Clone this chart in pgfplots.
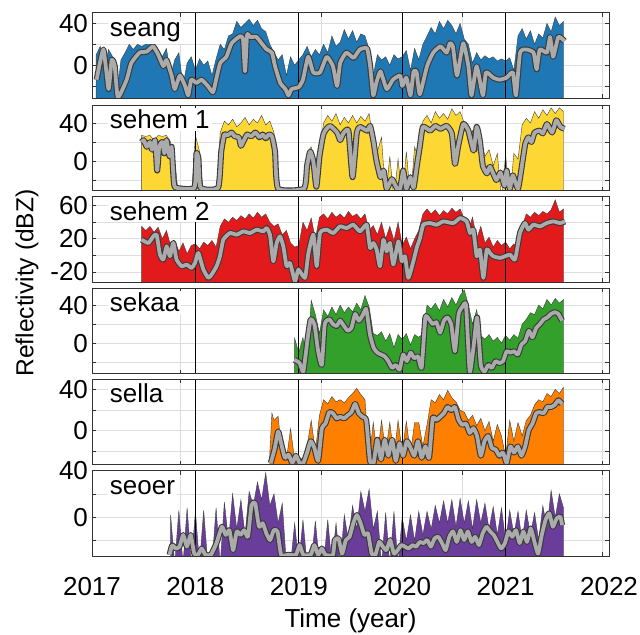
\documentclass[border=0pt]{standalone}
\usepackage{fontspec}
\setmainfont{Liberation Sans}
\usepackage{pgfplots}
\pgfplotsset{compat=1.18}
\usepackage{pgfplotstable}

\definecolor{cseang}{HTML}{1F77B4}
\definecolor{csehemA}{HTML}{FDD835}
\definecolor{csehemB}{HTML}{E31A1C}
\definecolor{csekaa}{HTML}{33A02C}
\definecolor{csella}{HTML}{FF7F00}
\definecolor{cseoer}{HTML}{6A3D9A}
\definecolor{glight}{HTML}{ABABAB}
\definecolor{gdark}{HTML}{3A3A3A}

% ---------------- seang ----------------
\pgfplotstableread{
x y
2017.04 -40
2017.04 10
2017.08 18
2017.12 -5
2017.16 15
2017.20 8
2017.24 -30
2017.28 5
2017.32 12
2017.36 20
2017.40 15
2017.44 20
2017.48 18
2017.52 20
2017.56 22
2017.60 20
2017.64 15
2017.68 8
2017.72 16
2017.76 -10
2017.80 5
2017.84 12
2017.88 -20
2017.92 2
2017.96 8
2018.00 -5
2018.04 6
2018.08 0
2018.12 4
2018.16 -10
2018.20 6
2018.24 20
2018.28 15
2018.32 28
2018.36 30
2018.40 42
2018.44 36
2018.48 40
2018.52 44
2018.56 38
2018.60 43
2018.64 35
2018.68 32
2018.72 20
2018.76 12
2018.80 5
2018.84 10
2018.88 -10
2018.92 8
2018.96 0
2019.00 5
2019.04 10
2019.08 18
2019.12 8
2019.16 15
2019.20 10
2019.24 20
2019.28 12
2019.32 28
2019.36 18
2019.40 22
2019.44 34
2019.48 25
2019.52 33
2019.56 22
2019.60 30
2019.64 28
2019.68 15
2019.72 -10
2019.76 10
2019.80 5
2019.84 8
2019.88 0
2019.92 10
2019.96 6
2020.00 8
2020.04 14
2020.08 -5
2020.12 16
2020.16 5
2020.20 20
2020.24 28
2020.28 36
2020.32 30
2020.36 42
2020.40 35
2020.44 43
2020.48 38
2020.52 30
2020.56 40
2020.60 25
2020.64 20
2020.68 2
2020.72 12
2020.76 5
2020.80 9
2020.84 6
2020.88 8
2020.92 4
2020.96 6
2021.00 4
2021.04 7
2021.08 -5
2021.12 28
2021.16 35
2021.20 25
2021.24 33
2021.28 20
2021.32 30
2021.36 26
2021.40 40
2021.44 32
2021.48 46
2021.52 38
2021.56 42
2021.56 -40
}\rawA
\pgfplotstableread{
x y
2017.045 -14
2017.11 15
2017.16 -23
2017.19 5
2017.22 -1
2017.25 -31
2017.335 -14
2017.38 2
2017.46 12
2017.53 13
2017.59 18
2017.64 10
2017.69 -1
2017.72 5
2017.77 -10
2017.80 -23
2017.85 -10
2017.90 -20
2017.93 -29
2017.96 -14
2018.01 -17
2018.06 -14
2018.12 -20
2018.17 -26
2018.20 -14
2018.24 2
2018.30 8
2018.35 21
2018.43 27.6
2018.46 25
2018.48 -6
2018.50 29
2018.53 27
2018.59 27
2018.64 21
2018.69 15
2018.74 12
2018.77 -1
2018.82 -17
2018.87 -23
2018.90 -29
2018.93 -23
2019.00 -21
2019.04 -14
2019.09 8
2019.14 -7
2019.205 -7
2019.27 8
2019.33 -1
2019.37 -20
2019.40 2
2019.46 12
2019.53 7
2019.59 15
2019.66 16
2019.69 -1
2019.72 -29
2019.75 -17
2019.79 -6
2019.85 -23
2019.91 -14
2019.98 -10
2020.00 -20
2020.04 -12
2020.08 -29
2020.11 -6
2020.14 -7
2020.17 -28
2020.24 -1
2020.30 12
2020.37 18
2020.43 12
2020.46 21
2020.49 18
2020.53 -10
2020.59 21
2020.64 -1
2020.67 -29
2020.72 -1
2020.78 -29
2020.81 -7
2020.88 -12
2020.94 -14
2021.01 -12
2021.07 -7
2021.10 -29
2021.14 12
2021.20 15
2021.27 12
2021.30 -4
2021.33 15
2021.40 12
2021.43 27
2021.46 8
2021.51 27
2021.57 23
}\smA

% ---------------- sehem 1 ----------------
\pgfplotstableread{
x y
2017.48 -40
2017.48 27
2017.52 26
2017.56 27
2017.60 22
2017.64 27
2017.68 26
2017.72 27
2017.76 20
2017.80 0
2017.84 -40
2017.96 -40
2018.00 27
2018.04 10
2018.08 -40
2018.20 -40
2018.24 30
2018.28 42
2018.32 38
2018.36 44
2018.40 36
2018.44 40
2018.48 46
2018.52 38
2018.56 44
2018.60 40
2018.64 48
2018.68 38
2018.72 42
2018.76 30
2018.80 -40
2019.04 -40
2019.08 8
2019.12 15
2019.16 -10
2019.20 10
2019.24 40
2019.28 48
2019.32 42
2019.36 50
2019.40 38
2019.44 46
2019.48 40
2019.52 48
2019.56 40
2019.60 47
2019.64 42
2019.68 50
2019.72 20
2019.76 10
2019.80 25
2019.84 -40
2019.88 5
2019.92 -40
2019.96 2
2020.00 -40
2020.04 10
2020.08 -40
2020.12 15
2020.16 2
2020.20 42
2020.24 48
2020.28 40
2020.32 52
2020.36 45
2020.40 50
2020.44 44
2020.48 55
2020.52 48
2020.56 52
2020.60 40
2020.64 20
2020.68 32
2020.72 10
2020.76 22
2020.80 5
2020.84 12
2020.88 -5
2020.92 8
2020.96 -40
2021.00 6
2021.04 -40
2021.08 8
2021.12 2
2021.16 38
2021.20 45
2021.24 40
2021.28 52
2021.32 45
2021.36 54
2021.40 48
2021.44 56
2021.48 50
2021.52 56
2021.56 52
2021.56 -40
}\rawB
\pgfplotstableread{
x y
2017.48 20
2017.50 22
2017.53 15
2017.56 20
2017.58 12
2017.61 22
2017.63 -10
2017.65 15
2017.68 20
2017.70 8
2017.72 22
2017.75 5
2017.77 15
2017.79 -20
2017.81 -28
2017.99 -28
2018.01 8
2018.03 2
2018.05 -28
2018.22 -28
2018.25 10
2018.28 28
2018.31 27
2018.35 30
2018.38 26
2018.42 25
2018.44 16
2018.47 22
2018.50 28
2018.54 26
2018.58 30
2018.62 25
2018.65 28
2018.68 24
2018.71 28
2018.74 26
2018.77 10
2018.80 -29
2019.05 -29
2019.08 -5
2019.11 10
2019.14 0
2019.17 -27
2019.20 5
2019.24 29
2019.30 37
2019.37 30
2019.40 22
2019.43 29
2019.48 32
2019.52 -17
2019.56 29
2019.59 36
2019.66 32
2019.69 37
2019.72 22
2019.75 1
2019.79 -17
2019.82 -10
2019.85 -29
2019.90 -19
2019.95 -29
2019.98 -29
2020.01 -10
2020.04 -29
2020.08 -17
2020.11 -28
2020.14 -6
2020.17 15
2020.20 36
2020.27 32
2020.32 37
2020.37 34
2020.43 37
2020.48 29
2020.51 -3
2020.54 15
2020.59 39
2020.64 32
2020.69 11
2020.72 36
2020.75 22
2020.78 -5
2020.82 -13
2020.85 -6
2020.91 -20
2020.95 -12
2020.99 -26
2021.01 -10
2021.04 -29
2021.07 -15
2021.12 -29
2021.16 -3
2021.19 18
2021.22 25
2021.25 20
2021.28 30
2021.33 32
2021.36 29
2021.40 39
2021.45 30
2021.49 43
2021.53 36
2021.57 34
}\smB

% ---------------- sehem 2 ----------------
\pgfplotstableread{
x y
2017.48 -40
2017.48 35
2017.52 30
2017.56 35
2017.60 28
2017.64 34
2017.68 20
2017.72 30
2017.76 12
2017.80 18
2017.84 5
2017.88 15
2017.92 2
2017.96 12
2018.00 14
2018.04 8
2018.08 16
2018.12 12
2018.16 18
2018.20 10
2018.24 35
2018.28 44
2018.32 40
2018.36 46
2018.40 42
2018.44 48
2018.48 44
2018.52 50
2018.56 45
2018.60 52
2018.64 46
2018.68 50
2018.72 40
2018.76 35
2018.80 38
2018.84 25
2018.88 30
2018.92 15
2018.96 10
2019.00 12
2019.04 40
2019.08 30
2019.12 45
2019.16 20
2019.20 46
2019.24 50
2019.28 44
2019.32 52
2019.36 46
2019.40 50
2019.44 45
2019.48 53
2019.52 47
2019.56 50
2019.60 44
2019.64 50
2019.68 30
2019.72 36
2019.76 25
2019.80 40
2019.84 20
2019.88 35
2019.92 18
2019.96 40
2020.00 12
2020.04 22
2020.08 8
2020.12 20
2020.16 30
2020.20 50
2020.24 56
2020.28 50
2020.32 55
2020.36 48
2020.40 54
2020.44 50
2020.48 57
2020.52 52
2020.56 56
2020.60 44
2020.64 30
2020.68 46
2020.72 20
2020.76 35
2020.80 15
2020.84 22
2020.88 10
2020.92 18
2020.96 12
2021.00 16
2021.04 8
2021.08 14
2021.12 6
2021.16 35
2021.20 50
2021.24 46
2021.28 52
2021.32 48
2021.36 53
2021.40 50
2021.44 55
2021.48 67
2021.52 52
2021.56 56
2021.56 -40
}\rawC
\pgfplotstableread{
x y
2017.48 19
2017.545 15
2017.593 23
2017.625 25
2017.657 1
2017.69 -5
2017.722 11
2017.754 -1
2017.786 15
2017.818 -5
2017.867 -13
2017.915 -11
2017.963 -15
2017.996 -9
2018.028 3
2018.077 -17
2018.125 -27
2018.157 -23
2018.205 -13
2018.237 -1
2018.27 19
2018.334 27
2018.399 25
2018.463 29
2018.528 27
2018.592 31
2018.657 29
2018.689 33
2018.721 25
2018.753 -7
2018.786 15
2018.818 23
2018.85 11
2018.882 -13
2018.915 -9
2018.963 -31
2018.996 -17
2019.06 -27
2019.093 3
2019.141 25
2019.173 -13
2019.205 27
2019.27 31
2019.334 27
2019.398 35
2019.463 33
2019.527 37
2019.592 29
2019.656 37
2019.689 9
2019.721 15
2019.753 7
2019.785 -13
2019.818 19
2019.85 5
2019.882 15
2019.914 -11
2019.963 17
2019.995 -7
2020.027 -1
2020.059 -27
2020.108 -7
2020.14 9
2020.172 21
2020.204 37
2020.269 39
2020.333 37
2020.398 41
2020.495 39
2020.559 45
2020.623 41
2020.656 27
2020.688 31
2020.72 -1
2020.752 7
2020.785 -27
2020.817 7
2020.849 3
2020.881 -1
2020.946 -3
2020.994 -1
2021.043 1
2021.091 -5
2021.139 27
2021.188 39
2021.22 31
2021.268 37
2021.333 35
2021.397 39
2021.462 41
2021.526 39
2021.574 41
}\smC

% ---------------- sekaa ----------------
\pgfplotstableread{
x y
2018.96 -40
2018.96 5
2019.00 -10
2019.04 6
2019.08 -20
2019.12 45
2019.16 30
2019.20 10
2019.24 35
2019.28 28
2019.32 38
2019.36 30
2019.40 40
2019.44 32
2019.48 38
2019.52 33
2019.56 42
2019.60 35
2019.64 50
2019.68 38
2019.72 10
2019.76 8
2019.80 12
2019.84 2
2019.88 10
2019.92 -5
2019.96 9
2020.00 4
2020.04 10
2020.08 -2
2020.12 9
2020.16 6
2020.20 10
2020.24 40
2020.28 36
2020.32 42
2020.36 34
2020.40 46
2020.44 38
2020.48 48
2020.52 40
2020.56 50
2020.60 56
2020.64 40
2020.68 20
2020.72 35
2020.76 8
2020.80 4
2020.84 9
2020.88 2
2020.92 6
2020.96 0
2021.00 8
2021.04 3
2021.08 9
2021.12 5
2021.16 20
2021.20 25
2021.24 32
2021.28 30
2021.32 40
2021.36 36
2021.40 46
2021.44 40
2021.48 47
2021.52 42
2021.56 46
2021.56 -40
}\rawD
\pgfplotstableread{
x y
2018.958 -17.5
2019.008 -21
2019.044 -30
2019.087 6
2019.115 25
2019.151 20
2019.187 -8.6
2019.223 -23
2019.251 20
2019.294 25
2019.33 20
2019.366 18
2019.40 23.6
2019.437 18
2019.473 13
2019.509 16
2019.545 30.7
2019.58 23.6
2019.616 29
2019.652 36
2019.688 9
2019.724 -5
2019.759 -10
2019.795 -12
2019.831 -14
2019.866 -19
2019.902 -26
2019.938 -23
2019.974 -28
2020.009 -12
2020.045 -19
2020.081 -10
2020.117 -16
2020.152 -14
2020.188 -26
2020.224 27
2020.26 25
2020.295 20
2020.331 22
2020.367 11
2020.403 23.6
2020.438 27
2020.474 20
2020.51 -8.6
2020.546 30.7
2020.581 38
2020.617 40
2020.653 -30
2020.689 -5
2020.724 27
2020.76 -23
2020.796 -30
2020.832 -23
2020.867 -26
2020.903 -19
2020.939 -21
2020.975 -19
2021.01 -8.6
2021.046 -10
2021.082 -8.6
2021.118 -12
2021.153 -1.4
2021.189 2
2021.225 13
2021.26 6
2021.296 16
2021.332 20
2021.368 25
2021.403 27
2021.439 30.7
2021.475 32.5
2021.51 30.7
2021.546 23.6
}\smD

% ---------------- sella ----------------
\pgfplotstableread{
x y
2018.72 -40
2018.72 -20
2018.74 17
2018.76 10
2018.80 14
2018.84 -25
2018.88 -28
2018.92 2
2018.96 -28
2019.00 -25
2019.04 -28
2019.08 -15
2019.12 10
2019.16 -20
2019.20 15
2019.24 30
2019.28 26
2019.32 33
2019.36 28
2019.40 30
2019.44 27
2019.48 32
2019.52 36
2019.56 41
2019.60 35
2019.64 30
2019.68 -28
2019.72 8
2019.76 -25
2019.80 10
2019.84 -20
2019.88 8
2019.92 -25
2019.96 10
2020.00 -20
2020.04 9
2020.08 -22
2020.12 8
2020.16 8
2020.20 -15
2020.24 6
2020.28 30
2020.32 27
2020.36 35
2020.40 30
2020.44 39
2020.48 32
2020.52 28
2020.56 20
2020.60 18
2020.64 10
2020.68 15
2020.72 5
2020.76 12
2020.80 0
2020.84 9
2020.88 -10
2020.92 6
2020.96 -5
2021.00 -25
2021.04 10
2021.08 -10
2021.12 8
2021.16 -5
2021.20 10
2021.24 15
2021.28 25
2021.32 30
2021.36 28
2021.40 36
2021.44 33
2021.48 40
2021.52 36
2021.56 42
2021.56 -40
}\rawE
\pgfplotstableread{
x y
2018.729 -31
2018.765 -18
2018.80 -0.6
2018.829 -12
2018.865 -26
2018.901 -23
2018.937 -31
2018.972 -24
2019.008 -31
2019.044 -31
2019.08 -21
2019.115 -10
2019.151 -16.5
2019.187 -29
2019.223 2.5
2019.258 7
2019.294 18
2019.33 17
2019.366 12
2019.40 13.6
2019.437 12
2019.473 15
2019.509 18
2019.545 26
2019.58 17
2019.616 13.6
2019.652 10
2019.688 -29
2019.724 -31
2019.759 -8.6
2019.795 -27.6
2019.831 -8.6
2019.866 -24
2019.902 -8.6
2019.938 -29
2019.974 -12
2020.009 -24
2020.045 -10
2020.081 -16.5
2020.117 -24
2020.152 -10
2020.188 -26
2020.224 -15
2020.26 -26
2020.295 12
2020.331 10.5
2020.367 13.6
2020.403 17
2020.438 23
2020.474 20
2020.51 23
2020.546 10.5
2020.581 5.7
2020.617 7
2020.653 -2
2020.689 2.5
2020.724 -5
2020.76 -24
2020.796 -10
2020.832 -5
2020.867 -16.5
2020.903 -18
2020.939 -24
2020.975 -21
2021.01 -31
2021.046 -15
2021.082 -21
2021.118 -15
2021.153 -24
2021.189 -15
2021.225 1
2021.26 7
2021.296 17
2021.332 18
2021.368 17
2021.403 23
2021.439 23
2021.475 25
2021.51 29.5
2021.546 26
}\smE

% ---------------- seoer ----------------
\pgfplotstableread{
x y
2017.76 -40
2017.76 2
2017.80 -40
2017.84 6
2017.88 -40
2017.92 8
2017.96 -40
2018.00 5
2018.04 -40
2018.08 6
2018.12 -40
2018.16 -40
2018.20 8
2018.24 -40
2018.28 13
2018.32 -20
2018.36 20
2018.40 -10
2018.44 15
2018.48 -15
2018.52 22
2018.56 10
2018.60 30
2018.64 15
2018.68 38
2018.72 10
2018.76 20
2018.80 -5
2018.84 12
2018.88 -40
2018.92 -40
2018.96 -5
2019.00 -40
2019.04 -2
2019.08 -40
2019.12 -40
2019.16 -3
2019.20 -40
2019.24 -40
2019.28 -2
2019.32 -40
2019.36 -5
2019.40 -40
2019.44 2
2019.48 -20
2019.52 10
2019.56 -10
2019.60 22
2019.64 5
2019.68 24
2019.72 -10
2019.76 5
2019.80 -40
2019.84 4
2019.88 -40
2019.92 5
2019.96 -40
2020.00 0
2020.04 -20
2020.08 2
2020.12 -20
2020.16 5
2020.20 -15
2020.24 5
2020.28 -10
2020.32 10
2020.36 -5
2020.40 14
2020.44 -5
2020.48 15
2020.52 -8
2020.56 16
2020.60 -5
2020.64 14
2020.68 -10
2020.72 15
2020.76 -5
2020.80 12
2020.84 -10
2020.88 9
2020.92 -15
2020.96 8
2021.00 -20
2021.04 6
2021.08 -15
2021.12 5
2021.16 -20
2021.20 6
2021.24 -15
2021.28 4
2021.32 -20
2021.36 10
2021.40 -10
2021.44 23
2021.48 0
2021.52 20
2021.56 8
2021.56 -40
}\rawF
\pgfplotstableread{
x y
2017.75 -32
2017.775 -24
2017.81 -26.6
2017.846 -25
2017.882 -15
2017.918 -25
2017.954 -15
2017.989 -31
2018.025 -32
2018.061 -26.6
2018.097 -32
2018.15 -32
2018.204 -22
2018.257 -8
2018.293 -15
2018.329 -11
2018.365 -28
2018.40 -12
2018.436 -15
2018.472 -11
2018.508 -16.6
2018.543 10.6
2018.579 12
2018.615 -8
2018.651 -5
2018.686 -13.7
2018.722 -19.4
2018.758 -11
2018.794 -12
2018.829 -32
2018.901 -32
2018.972 -32
2019.008 -23.7
2019.044 -32
2019.115 -32
2019.151 -23.7
2019.187 -32
2019.223 -26.6
2019.258 -32
2019.33 -32
2019.348 -19.4
2019.384 -18
2019.419 -31
2019.455 -19.4
2019.491 -16.6
2019.527 -5
2019.562 2
2019.598 -5
2019.634 -15
2019.67 -13.7
2019.705 -31
2019.741 -32
2019.777 -21
2019.813 -25
2019.848 -28
2019.884 -19.4
2019.92 -31
2019.956 -28
2019.991 -23.7
2020.027 -25
2020.063 -26.6
2020.099 -23.7
2020.134 -25
2020.17 -21
2020.206 -22
2020.242 -19.4
2020.277 -25
2020.313 -18
2020.349 -16.6
2020.385 -22
2020.42 -28
2020.456 -16.6
2020.492 -12
2020.528 -21
2020.563 -11
2020.599 -19.4
2020.635 -12
2020.671 -21
2020.706 -16.6
2020.742 -23.7
2020.778 -13.7
2020.814 -8
2020.85 -12
2020.885 -15
2020.921 -21
2020.957 -26.6
2020.993 -22
2021.028 -12
2021.064 -16.6
2021.10 -11
2021.136 -22
2021.171 -12
2021.207 -21
2021.243 -9.4
2021.279 -21
2021.314 -31
2021.35 -15
2021.386 -2.3
2021.422 3.4
2021.457 -8
2021.493 -1
2021.529 0.6
2021.546 -6.6
}\smF

\newcommand{\tickfont}{\fontsize{13}{15}\selectfont}

\pgfplotsset{
  panel/.style={
    scale only axis, width=258.5pt, height=42.75pt,
    anchor=south west,
    xmin=2017, xmax=2022,
    xtick={2017.858,2019.218,2020.578,2021.938},
    xticklabels={,,,},
    xmajorgrids, ymajorgrids,
    grid style={black!13, line width=0.4pt},
    major tick length=2pt,
    tick style={black!80, line width=0.4pt},
    axis line style={black!80, line width=0.5pt},
    yticklabel style={font=\tickfont, xshift=1.5pt},
  },
  raw/.style={draw=black!75, line width=0.2pt, fill=#1},
}

\newcommand{\yearlines}{%
  \addplot[black, line width=0.45pt, forget plot] coordinates {(2018,-200) (2018,200)};
  \addplot[black, line width=0.45pt, forget plot] coordinates {(2019,-200) (2019,200)};
  \addplot[black, line width=0.45pt, forget plot] coordinates {(2020,-200) (2020,200)};
  \addplot[black, line width=0.45pt, forget plot] coordinates {(2021,-200) (2021,200)};
}
\newcommand{\smline}[1]{%
  \addplot[gdark, line width=3pt, smooth, tension=0.3, line join=round, forget plot] table {#1};
  \addplot[glight, line width=1.9pt, smooth, tension=0.3, line join=round, forget plot] table {#1};
}
\newcommand{\frameit}{\draw[black!80, line width=0.5pt] (rel axis cs:0,0) rectangle (rel axis cs:1,1);}
\newcommand{\plabel}[1]{\node[anchor=base west, fill=white, inner sep=1pt, font=\tickfont] at (rel axis cs:0.03,0.725) {#1};}

\begin{document}
\begin{tikzpicture}
\useasboundingbox (0,0) rectangle (320pt,317pt);

% seang
\begin{axis}[panel, at={(46pt,267.75pt)}, ymin=-32, ymax=50,
  ytick={-20,0,20,40}, yticklabels={,0,,40}]
\addplot[raw=cseang] table {\rawA};
\yearlines
\smline{\smA}
\plabel{seang}
\frameit
\end{axis}

% sehem 1
\begin{axis}[panel, at={(46pt,221.75pt)}, ymin=-31, ymax=59,
  ytick={-20,0,20,40}, yticklabels={,0,,40}]
\addplot[raw=csehemA] table {\rawB};
\yearlines
\smline{\smB}
\plabel{sehem 1}
\frameit
\end{axis}

% sehem 2
\begin{axis}[panel, at={(46pt,176pt)}, ymin=-32, ymax=71,
  ytick={-20,0,20,40,60}, yticklabels={-20,,20,,60}]
\addplot[raw=csehemB] table {\rawC};
\yearlines
\smline{\smC}
\plabel{sehem 2}
\frameit
\end{axis}

% sekaa
\begin{axis}[panel, at={(46pt,130.25pt)}, ymin=-32, ymax=58,
  ytick={-20,0,20,40}, yticklabels={,0,,40}]
\addplot[raw=csekaa] table {\rawD};
\yearlines
\smline{\smD}
\plabel{sekaa}
\frameit
\end{axis}

% sella
\begin{axis}[panel, at={(46pt,84.75pt)}, ymin=-32.5, ymax=50,
  ytick={-20,0,20,40}, yticklabels={,0,,40}]
\addplot[raw=csella] table {\rawE};
\yearlines
\smline{\smE}
\plabel{sella}
\frameit
\end{axis}

% seoer
\begin{axis}[panel, at={(46pt,39pt)}, ymin=-33, ymax=40,
  ytick={-20,0,20,40}, yticklabels={,0,,40},
  extra x ticks={2017,2018,2019,2020,2021,2022},
  extra x tick labels={2017,2018,2019,2020,2021,2022},
  extra x tick style={major tick length=0pt, grid=none,
    xticklabel style={font=\tickfont, anchor=base, yshift=-19.5pt}}]
\addplot[raw=cseoer] table {\rawF};
\yearlines
\smline{\smF}
\plabel{seoer}
\frameit
\end{axis}

\node[rotate=90, font=\fontsize{12.3}{14}\selectfont] at (13.5pt,175.5pt) {Reflectivity (dBZ)};
\node[anchor=base, font=\tickfont] at (175.25pt,3.5pt) {Time (year)};
\end{tikzpicture}
\end{document}
